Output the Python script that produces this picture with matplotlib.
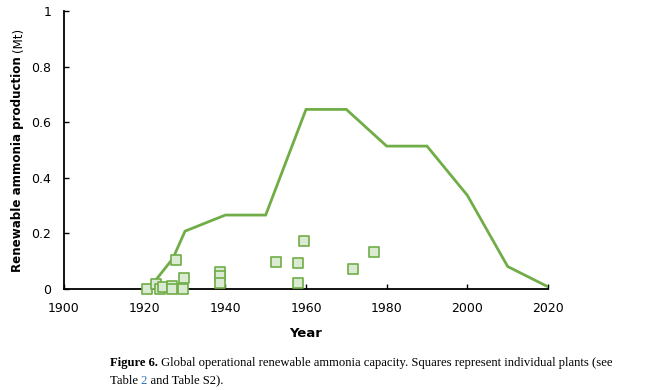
import matplotlib
matplotlib.use("Agg")
import matplotlib.pyplot as plt
from matplotlib.transforms import Bbox, TransformedBbox

# total renewable capacity (Mt)
line_years = [1921, 1927, 1930, 1940, 1950, 1960, 1970, 1980, 1990, 2000, 2010, 2020]
line_vals = [0.0, 0.11, 0.208, 0.266, 0.266, 0.646, 0.646, 0.514, 0.514, 0.337, 0.081, 0.008]

# individual plants
plant_years = [1920.7, 1922.8, 1923.8, 1924.6, 1926.7, 1926.7, 1927.7, 1929.6, 1929.8,
               1938.8, 1938.8, 1938.8, 1952.5, 1957.9, 1957.9, 1959.5, 1971.6, 1976.9]
plant_vals = [0.0, 0.018, 0.0, 0.006, 0.012, 0.0, 0.104, 0.0, 0.038,
              0.062, 0.045, 0.023, 0.096, 0.092, 0.02, 0.174, 0.072, 0.132]

xticks = [1900, 1920, 1940, 1960, 1980, 2000, 2020]
yticks = [0, 0.2, 0.4, 0.6, 0.8, 1.0]
ytick_labels = ["0", "0.2", "0.4", "0.6", "0.8", "1"]

GREEN = "#70ad47"
FILL = "#dbead2"

fig = plt.figure(figsize=(6.52, 3.9), dpi=100)
ax = fig.add_axes([64 / 652, 1 - 289 / 390, 484 / 652, 278 / 390])

ax.plot(line_years, line_vals, color=GREEN, linewidth=2, solid_joinstyle="miter", zorder=2)
ax.scatter(plant_years, plant_vals, marker="s", s=55, facecolor=FILL,
           edgecolor=GREEN, linewidth=1.2, zorder=3, clip_on=False)

ax.set_xlim(1900, 2020)
ax.set_ylim(0, 1)
ax.set_xticks(xticks)
ax.set_yticks(yticks)
ax.set_yticklabels(ytick_labels)
ax.tick_params(direction="in", length=3.5, width=1, labelsize=9, pad=9)
for side in ["top", "right"]:
    ax.spines[side].set_visible(False)
for side in ["left", "bottom"]:
    ax.spines[side].set_linewidth(1.3)

ax.set_xlabel("Year", fontsize=9.5, fontweight="bold", labelpad=9)

fig.canvas.draw()
renderer = fig.canvas.get_renderer()

# y label: bold text plus a plain "(Mt)"
ylab_x = 18 / 652
t1 = fig.text(ylab_x, 1 - 272 / 390, "Renewable ammonia production ", fontsize=8.6,
              fontweight="bold", rotation=90, ha="center", va="bottom")
h1 = t1.get_window_extent(renderer=renderer).height / fig.bbox.height
fig.text(ylab_x, 1 - 272 / 390 + h1, "(Mt)", fontsize=8.6, rotation=90,
         ha="center", va="bottom")

CAP = dict(fontsize=9.1, family="Liberation Serif", va="baseline")


def width(s, **kw):
    t = fig.text(0, 0, s, **CAP, **kw)
    w = t.get_window_extent(renderer=renderer).width / fig.bbox.width
    t.remove()
    return w


def clipped(x, y, s, x_from, x_to, color):
    t = fig.text(x, y, s, color=color, **CAP)
    t.set_clip_box(TransformedBbox(Bbox([[x_from, 0], [x_to, 1]]), fig.transFigure))
    t.set_clip_on(True)


x0 = 110 / 652
y1 = 1 - 366 / 390
y2 = 1 - 383 / 390
fig.text(x0, y1, "Figure 6.", fontweight="bold", **CAP)
fig.text(x0 + width("Figure 6.", fontweight="bold"), y1,
         " Global operational renewable ammonia capacity. Squares represent individual plants (see", **CAP)

# second line, with the table number in blue
line2 = "Table 2 and Table S2)."
xa = x0 + width("Table") + 1 / 652
xb = x0 + width("Table 2") + 0.6 / 652
clipped(x0, y2, line2, 0, xa, "black")
clipped(x0, y2, line2, xa, xb, "#2e74b5")
clipped(x0, y2, line2, xb, 1, "black")

fig.savefig("out.png", dpi=100)
